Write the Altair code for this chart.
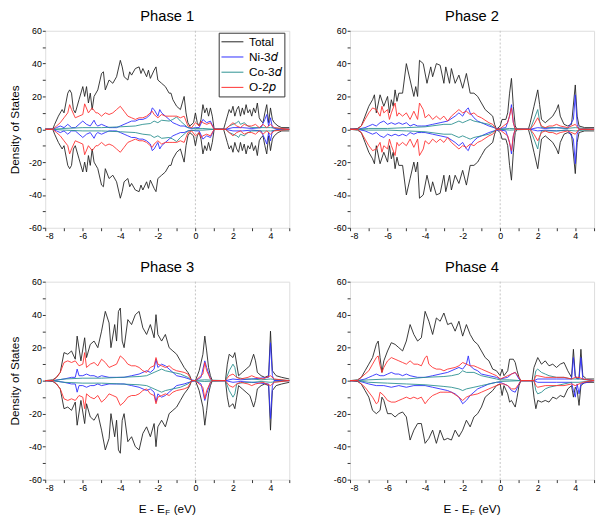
import altair as alt
import pandas as pd

FONT = "Liberation Sans"
SERIES = ["Total", "Ni-3\U0001D451", "Co-3\U0001D451", "O-2\U0001D45D"]
COLORS = ["#222222", "#2b2bff", "#2a9090", "#ff3030"]

# ---------------- Phase 1 (spin-up; spin-down is the mirror image) ----------------
P1_TOTAL = [(-8, 0), (-7.6, 0), (-7.5, 3), (-7.3, 8), (-7.1, 12), (-7.0, 10), (-6.8, 22), (-6.7, 24),
            (-6.6, 22), (-6.5, 12), (-6.4, 10), (-6.2, 18), (-6.0, 26), (-5.9, 20), (-5.8, 26), (-5.7, 16),
            (-5.6, 22), (-5.5, 12), (-5.4, 20), (-5.2, 24), (-5.0, 34), (-4.9, 35), (-4.8, 24), (-4.6, 30),
            (-4.4, 28), (-4.2, 32), (-4.0, 42), (-3.9, 38), (-3.8, 32), (-3.6, 30), (-3.5, 35), (-3.4, 33),
            (-3.2, 37), (-3.0, 38), (-2.9, 34), (-2.8, 37), (-2.6, 32), (-2.5, 36), (-2.4, 31), (-2.2, 36),
            (-2.1, 38), (-2.0, 30), (-1.8, 28), (-1.6, 26), (-1.4, 22), (-1.3, 22), (-1.2, 18), (-1.0, 14),
            (-0.8, 12), (-0.6, 20), (-0.5, 10), (-0.4, 4), (-0.3, 2), (-0.1, 4), (0.0, 10), (0.1, 4),
            (0.2, 2), (0.3, 6), (0.4, 15), (0.5, 10), (0.6, 13), (0.7, 8), (0.8, 13), (0.9, 8), (1.0, 0),
            (1.5, 0), (1.6, 4), (1.7, 8), (1.8, 12), (1.9, 10), (2.0, 14), (2.1, 8), (2.2, 12), (2.3, 14),
            (2.4, 8), (2.5, 13), (2.6, 9), (2.7, 15), (2.8, 10), (2.9, 12), (3.0, 8), (3.1, 13), (3.2, 10),
            (3.3, 16), (3.4, 7), (3.5, 5), (3.6, 4), (3.7, 10), (3.8, 15), (3.9, 4), (4.0, 13), (4.1, 6),
            (4.2, 4), (4.4, 2), (4.6, 1), (5.0, 1)]
P1_NI = [(-8, 0), (-7.6, 0), (-7.4, 1), (-7.2, 2), (-7.0, 1), (-6.8, 3), (-6.6, 1), (-6.4, 1), (-6.2, 3),
         (-6.0, 5), (-5.8, 3), (-5.6, 2), (-5.4, 5.5), (-5.3, 3), (-5.2, 2), (-5.0, 3), (-4.8, 2), (-4.6, 1),
         (-4.4, 1), (-4.2, 1), (-4.0, 2), (-3.8, 3), (-3.6, 4), (-3.4, 5), (-3.2, 5), (-3.0, 6), (-2.8, 6),
         (-2.6, 7), (-2.4, 9), (-2.3, 13), (-2.2, 12), (-2.0, 8), (-1.9, 12), (-1.8, 10), (-1.6, 8),
         (-1.4, 6), (-1.2, 4), (-1.0, 3), (-0.8, 2), (-0.6, 2), (-0.4, 1), (-0.2, 0.5), (0.0, 1), (0.2, 1),
         (0.4, 6), (0.6, 4), (0.8, 5), (1.0, 0), (1.6, 0), (2.0, 1), (2.5, 1), (3.0, 0.5), (3.5, 1),
         (3.7, 6), (3.8, 9), (3.9, 2), (4.0, 7), (4.1, 1), (4.4, 0), (5.0, 0)]
P1_CO = [(-8, 0), (-7.6, 0), (-7.0, 0.5), (-6.0, 1), (-5.0, 1), (-4.0, 1.5), (-3.2, 2), (-2.8, 3),
         (-2.4, 3.5), (-2.2, 5), (-2.0, 4), (-1.8, 5.5), (-1.4, 5), (-1.2, 6), (-1.0, 7.5), (-0.8, 5),
         (-0.6, 3), (-0.4, 1), (0.0, 0.5), (0.4, 0.5), (1.0, 0), (1.6, 0), (1.8, 2), (2.0, 3), (2.2, 4),
         (2.3, 5), (2.4, 3), (2.6, 4), (2.8, 2), (3.0, 1), (3.4, 1), (3.8, 1), (4.0, 1), (4.5, 0.5), (5.0, 0)]
P1_O = [(-8, 0), (-7.6, 0), (-7.4, 2), (-7.2, 4), (-7.0, 7), (-6.8, 10), (-6.7, 15), (-6.6, 12), (-6.4, 7),
        (-6.2, 8), (-6.0, 9), (-5.9, 15.5), (-5.7, 10), (-5.5, 13), (-5.3, 10), (-5.2, 10), (-5.0, 8),
        (-4.8, 10), (-4.6, 9), (-4.4, 10), (-4.2, 12), (-4.0, 14), (-3.8, 11), (-3.6, 8), (-3.4, 7),
        (-3.2, 6), (-3.0, 7), (-2.8, 7), (-2.6, 8), (-2.4, 10), (-2.3, 11), (-2.2, 9), (-2.0, 7), (-1.8, 9),
        (-1.6, 8), (-1.4, 8), (-1.2, 8), (-1.0, 8), (-0.8, 7), (-0.6, 8), (-0.4, 2), (-0.2, 1), (0.0, 4),
        (0.2, 2), (0.3, 5), (0.4, 4), (0.6, 3), (0.8, 4), (1.0, 0), (1.6, 0), (1.8, 2), (2.0, 4), (2.2, 2),
        (2.4, 1), (2.6, 3), (2.8, 2), (3.0, 2), (3.2, 3), (3.4, 1), (3.6, 3), (3.8, 1), (4.0, 3), (4.2, 1),
        (5.0, 0)]

# ---------------- Phase 2 ----------------
P2_TOTAL = [(-8, 0), (-7.6, 0.5), (-7.4, 2), (-7.2, 8), (-7.0, 14), (-6.8, 18), (-6.7, 21), (-6.6, 10),
            (-6.4, 21), (-6.2, 14), (-6.0, 20), (-5.9, 10), (-5.8, 18), (-5.7, 14), (-5.6, 24), (-5.5, 17),
            (-5.4, 22), (-5.2, 22), (-5.0, 40), (-4.8, 30), (-4.6, 20), (-4.5, 26), (-4.4, 20), (-4.3, 42),
            (-4.1, 40), (-3.9, 28), (-3.7, 38), (-3.6, 32), (-3.4, 40), (-3.2, 39), (-3.0, 28), (-2.9, 38),
            (-2.7, 28), (-2.6, 37), (-2.4, 28), (-2.2, 33), (-2.0, 25), (-1.8, 34), (-1.6, 22), (-1.4, 22),
            (-1.2, 20), (-1.0, 16), (-0.8, 12), (-0.6, 10), (-0.4, 8), (-0.3, 3), (-0.2, 0), (0.0, 2),
            (0.1, 6), (0.3, 6), (0.4, 10), (0.5, 22), (0.6, 31), (0.7, 14), (0.8, 2), (0.9, 0), (1.5, 0),
            (1.6, 4), (1.8, 14), (2.0, 24), (2.1, 15), (2.2, 6), (2.4, 4), (2.6, 6), (2.8, 8), (3.0, 12),
            (3.1, 15), (3.2, 8), (3.4, 3), (3.6, 2), (3.8, 3), (4.0, 27), (4.1, 8), (4.2, 2), (4.5, 1),
            (5.0, 1)]
P2_NI = [(-8, 0), (-7.6, 0), (-7.2, 1), (-7.0, 2), (-6.8, 3), (-6.6, 2), (-6.4, 4), (-6.2, 5), (-6.0, 3),
         (-5.8, 4), (-5.6, 3), (-5.4, 4), (-5.2, 3), (-5.0, 4), (-4.8, 2), (-4.6, 3), (-4.4, 2), (-4.2, 2),
         (-4.0, 2), (-3.6, 3), (-3.2, 4), (-2.8, 5), (-2.4, 8), (-2.2, 10), (-2.0, 8), (-1.8, 12),
         (-1.7, 13), (-1.6, 10), (-1.4, 7), (-1.2, 5), (-1.0, 4), (-0.6, 2), (-0.2, 0.5), (0.0, 0.5),
         (0.3, 1), (0.5, 8), (0.6, 15), (0.7, 4), (0.8, 0), (1.6, 0), (1.8, 0.5), (2.0, 1), (2.4, 0.5),
         (3.0, 1), (3.6, 0.5), (3.9, 6), (4.0, 21), (4.1, 3), (4.2, 0), (5.0, 0)]
P2_CO = [(-8, 0), (-7.6, 0), (-7.0, 0.5), (-6.0, 0.5), (-5.0, 1), (-4.0, 1.5), (-3.0, 3), (-2.6, 3),
         (-2.2, 5), (-2.0, 4), (-1.8, 5), (-1.6, 6), (-1.4, 5), (-1.0, 4), (-0.6, 3), (-0.3, 1), (-0.2, 0),
         (0.0, 0), (0.5, 0.5), (1.6, 0), (1.8, 6), (2.0, 12), (2.1, 5), (2.2, 1), (2.6, 1), (3.0, 1),
         (3.5, 0.5), (4.0, 1), (5.0, 0)]
P2_O = [(-8, 0), (-7.6, 0), (-7.4, 2), (-7.2, 6), (-7.0, 10), (-6.8, 13), (-6.6, 12), (-6.4, 8), (-6.3, 14),
        (-6.2, 10), (-6.0, 12), (-5.9, 6), (-5.8, 10), (-5.6, 16), (-5.5, 8), (-5.4, 10), (-5.2, 8),
        (-5.0, 10), (-4.8, 6), (-4.6, 11), (-4.4, 6), (-4.3, 16), (-4.1, 12), (-4.0, 7), (-3.8, 9),
        (-3.6, 6), (-3.4, 8), (-3.2, 6), (-3.0, 8), (-2.8, 5), (-2.6, 8), (-2.4, 10), (-2.2, 12), (-2.0, 10),
        (-1.8, 11), (-1.6, 9), (-1.4, 10), (-1.2, 8), (-1.0, 7), (-0.6, 4), (-0.4, 3), (-0.2, 0), (0.0, 0.5),
        (0.4, 4), (0.6, 13), (0.7, 4), (0.8, 0), (1.6, 0), (1.8, 3), (2.0, 7), (2.2, 2), (2.4, 1), (2.6, 2),
        (2.8, 2), (3.0, 3), (3.2, 2), (3.6, 1), (4.0, 3), (4.2, 0), (5.0, 0)]

# ---------------- Phase 3 ----------------
P3_TOTAL = [(-8, 0), (-7.6, 0.5), (-7.4, 2), (-7.2, 5), (-7.0, 17), (-6.8, 16), (-6.6, 18), (-6.4, 13),
            (-6.3, 27), (-6.1, 12), (-5.9, 26), (-5.8, 14), (-5.6, 22), (-5.4, 24), (-5.2, 20), (-5.0, 30),
            (-4.8, 42), (-4.6, 35), (-4.5, 20), (-4.3, 34), (-4.2, 24), (-4.1, 42), (-4.0, 44), (-3.9, 24),
            (-3.8, 20), (-3.6, 37), (-3.4, 34), (-3.2, 40), (-3.0, 42), (-2.8, 32), (-2.6, 28), (-2.4, 34),
            (-2.2, 26), (-2.1, 40), (-2.0, 28), (-1.8, 24), (-1.6, 28), (-1.4, 20), (-1.2, 18), (-1.0, 16),
            (-0.8, 12), (-0.6, 8), (-0.4, 5), (-0.3, 3), (-0.2, 0), (0.0, 0), (0.2, 6), (0.4, 16), (0.5, 27),
            (0.6, 18), (0.7, 8), (0.8, 3), (0.9, 0), (1.6, 0), (1.7, 10), (1.8, 16), (2.0, 14), (2.1, 17),
            (2.2, 10), (2.3, 3), (2.5, 5), (2.7, 7), (2.9, 9), (3.1, 16), (3.2, 12), (3.3, 5), (3.5, 3),
            (3.7, 2), (3.9, 3), (4.0, 30), (4.1, 6), (4.3, 3), (4.6, 2), (5.0, 1)]
P3_NI = [(-8, 0), (-7.6, 0), (-7.0, 1), (-6.6, 2), (-6.4, 2), (-6.3, 7), (-6.2, 3), (-6.0, 3), (-5.8, 4),
         (-5.6, 3), (-5.4, 3), (-5.2, 2), (-5.0, 3), (-4.6, 2), (-4.2, 2), (-3.8, 2), (-3.4, 3), (-3.0, 4),
         (-2.6, 6), (-2.4, 5), (-2.2, 7), (-2.1, 13), (-2.0, 8), (-1.8, 10), (-1.6, 9), (-1.4, 7), (-1.2, 5),
         (-1.0, 3), (-0.6, 2), (-0.2, 0.5), (0.0, 0), (0.3, 2), (0.5, 12), (0.6, 8), (0.8, 1), (0.9, 0),
         (1.6, 0), (2.0, 1), (2.4, 0.5), (3.0, 1), (3.9, 2), (4.0, 23), (4.1, 3), (4.2, 0), (5.0, 0)]
P3_CO = [(-8, 0), (-7.6, 0), (-7.0, 1), (-6.0, 1.5), (-5.0, 1.5), (-4.0, 2), (-3.0, 2.5), (-2.6, 3),
         (-2.2, 5), (-2.0, 6), (-1.8, 7), (-1.6, 6), (-1.2, 5), (-0.8, 4), (-0.4, 2), (-0.2, 0), (0.5, 0.5),
         (1.6, 0), (1.8, 6), (2.0, 10), (2.1, 8), (2.2, 2), (2.6, 1), (3.0, 1), (3.5, 0.5), (4.0, 1), (5.0, 0)]
P3_O = [(-8, 0), (-7.6, 0), (-7.4, 2), (-7.2, 5), (-7.0, 11), (-6.8, 12), (-6.6, 11), (-6.4, 12), (-6.2, 9),
        (-6.0, 10), (-5.9, 17), (-5.8, 8), (-5.6, 10), (-5.4, 11), (-5.2, 9), (-5.0, 13), (-4.8, 11),
        (-4.6, 8), (-4.4, 9), (-4.2, 10), (-4.0, 15), (-3.8, 13), (-3.6, 10), (-3.4, 9), (-3.2, 9), (-3.0, 8),
        (-2.8, 6), (-2.6, 5), (-2.4, 8), (-2.2, 9), (-2.1, 14), (-2.0, 10), (-1.8, 9), (-1.6, 8), (-1.4, 9),
        (-1.2, 7), (-1.0, 6), (-0.6, 5), (-0.4, 4), (-0.2, 0), (0.0, 0), (0.4, 4), (0.5, 11), (0.6, 6),
        (0.8, 1), (0.9, 0), (1.6, 0), (1.8, 3), (2.0, 4), (2.2, 2), (2.4, 1), (2.8, 2), (3.0, 3), (3.2, 2),
        (3.6, 1), (4.0, 3), (4.2, 1), (5.0, 0)]

# ---------------- Phase 4 (spin-up and spin-down read separately) ----------------
P4_TOTAL_UP = [(-8, 0), (-7.6, 0.5), (-7.4, 2), (-7.2, 6), (-7.0, 10), (-6.8, 14), (-6.6, 22), (-6.5, 24),
               (-6.4, 14), (-6.3, 5), (-6.2, 12), (-6.0, 18), (-5.8, 23), (-5.6, 22), (-5.4, 20), (-5.2, 18),
               (-5.0, 24), (-4.8, 34), (-4.6, 28), (-4.4, 24), (-4.2, 26), (-4.0, 42), (-3.8, 36),
               (-3.6, 28), (-3.4, 38), (-3.2, 36), (-3.0, 41), (-2.8, 34), (-2.6, 35), (-2.4, 30),
               (-2.2, 36), (-2.0, 27), (-1.8, 34), (-1.6, 28), (-1.4, 24), (-1.2, 22), (-1.0, 18),
               (-0.8, 14), (-0.6, 12), (-0.4, 7), (-0.2, 6), (0.0, 3), (0.1, 7), (0.2, 3), (0.4, 6),
               (0.5, 13), (0.7, 13), (0.8, 11), (0.9, 6), (1.0, 2), (1.1, 0), (1.7, 0), (1.8, 8), (2.0, 14),
               (2.2, 10), (2.4, 12), (2.6, 9), (2.8, 10), (3.0, 8), (3.2, 10), (3.4, 11), (3.6, 6),
               (3.8, 2), (3.9, 19), (4.0, 3), (4.1, 1), (4.2, 2), (4.3, 19), (4.4, 3), (4.6, 1), (5.0, 1)]
P4_TOTAL_DN = [(-8, 0), (-7.6, -0.5), (-7.4, -2), (-7.2, -6), (-7.0, -10), (-6.8, -18), (-6.6, -20),
               (-6.4, -18), (-6.3, -10), (-6.2, -12), (-6.0, -20), (-5.8, -20), (-5.6, -22), (-5.4, -20),
               (-5.2, -19), (-5.0, -22), (-4.8, -36), (-4.6, -30), (-4.4, -26), (-4.2, -26), (-4.0, -38),
               (-3.8, -35), (-3.6, -30), (-3.4, -38), (-3.2, -30), (-3.0, -36), (-2.8, -35), (-2.6, -36),
               (-2.4, -30), (-2.2, -34), (-2.0, -30), (-1.8, -24), (-1.6, -28), (-1.4, -22), (-1.2, -20),
               (-1.0, -16), (-0.8, -10), (-0.6, -8), (-0.4, -6), (-0.2, -3), (0.0, -2), (0.1, -9),
               (0.2, -3), (0.4, -8), (0.5, -13), (0.6, -12), (0.8, -16), (0.9, -10), (1.0, -3), (1.1, 0),
               (1.7, 0), (1.8, -10), (1.9, -17), (2.0, -12), (2.2, -13), (2.4, -12), (2.6, -13),
               (2.8, -10), (3.0, -11), (3.2, -9), (3.4, -10), (3.6, -5), (3.8, -3), (3.9, -10), (4.0, -4),
               (4.1, -6), (4.2, -15), (4.3, -3), (4.5, -1), (5.0, -1)]
P4_NI_UP = [(-8, 0), (-7.6, 0), (-7.2, 1), (-7.0, 2), (-6.8, 3), (-6.6, 4), (-6.4, 3), (-6.2, 3), (-6.0, 4),
            (-5.8, 5), (-5.6, 4), (-5.4, 4), (-5.2, 3), (-5.0, 4), (-4.8, 3), (-4.4, 2), (-4.0, 2), (-3.6, 3),
            (-3.2, 4), (-2.8, 5), (-2.4, 7), (-2.2, 8), (-2.0, 7), (-1.8, 10), (-1.7, 15), (-1.6, 9),
            (-1.4, 7), (-1.2, 6), (-1.0, 4), (-0.6, 3), (-0.2, 2), (0.0, 1), (0.4, 2), (0.6, 4), (0.8, 5),
            (1.0, 1), (1.1, 0), (1.8, 0), (2.0, 1), (3.0, 1), (3.8, 1), (3.9, 14), (4.0, 2), (4.2, 1),
            (4.3, 14), (4.4, 1), (5.0, 0)]
P4_NI_DN = [(-8, 0), (-7.6, 0), (-7.0, -2), (-6.6, -3), (-6.2, -3), (-5.8, -4), (-5.4, -3), (-5.0, -4),
            (-4.6, -3), (-4.0, -3), (-3.6, -4), (-3.2, -5), (-2.8, -6), (-2.4, -8), (-2.2, -10), (-2.0, -14),
            (-1.8, -12), (-1.6, -9), (-1.4, -7), (-1.2, -5), (-1.0, -4), (-0.6, -2), (-0.2, -1), (0.0, -1),
            (0.4, -3), (0.6, -6), (0.8, -7), (1.0, -2), (1.1, 0), (1.8, 0), (2.0, -1), (3.0, -1), (3.8, -1),
            (3.9, -6), (4.0, -10), (4.1, -2), (4.2, -8), (4.3, -2), (5.0, 0)]
P4_CO_UP = [(-8, 0), (-7.6, 0), (-7.0, 0.5), (-6.0, 1), (-5.0, 1), (-4.0, 2), (-3.0, 2.5), (-2.6, 3),
            (-2.2, 4), (-2.0, 6), (-1.8, 5), (-1.4, 5), (-1.0, 3), (-0.6, 2), (-0.2, 1), (0.0, 0.5),
            (0.5, 0.5), (1.1, 0), (1.8, 0), (1.9, 6), (2.0, 7), (2.2, 5), (2.4, 4), (2.6, 3), (3.0, 2),
            (3.4, 2), (3.8, 1), (4.2, 1), (5.0, 0)]
P4_CO_DN = [(-8, 0), (-7.6, 0), (-7.0, -1), (-6.0, -1.5), (-5.0, -2), (-4.0, -2.5), (-3.0, -3.5),
            (-2.6, -4), (-2.2, -5), (-2.0, -6), (-1.8, -5), (-1.4, -4), (-1.0, -3), (-0.6, -2), (-0.2, -1),
            (0.0, -0.5), (1.1, 0), (1.8, 0), (1.9, -6), (2.0, -8), (2.2, -7), (2.4, -5), (2.6, -4),
            (3.0, -3), (3.4, -2), (3.8, -1), (4.2, -1), (5.0, 0)]
P4_O_UP = [(-8, 0), (-7.6, 0), (-7.4, 2), (-7.2, 4), (-7.0, 6), (-6.8, 10), (-6.6, 14), (-6.5, 15),
           (-6.4, 9), (-6.3, 5), (-6.2, 8), (-6.0, 12), (-5.8, 14), (-5.6, 13), (-5.4, 12), (-5.2, 11),
           (-5.0, 10), (-4.8, 12), (-4.6, 10), (-4.4, 10), (-4.2, 9), (-4.0, 14), (-3.9, 15), (-3.8, 10),
           (-3.6, 8), (-3.4, 7), (-3.2, 7), (-3.0, 6), (-2.8, 7), (-2.4, 8), (-2.2, 9), (-2.0, 11),
           (-1.8, 10), (-1.6, 9), (-1.4, 9), (-1.2, 8), (-1.0, 7), (-0.6, 5), (-0.4, 4), (-0.2, 3),
           (0.0, 1), (0.2, 2), (0.4, 3), (0.6, 4), (0.8, 5), (1.0, 2), (1.1, 0), (1.8, 0), (1.9, 3),
           (2.0, 3), (2.4, 2), (3.0, 2), (3.4, 2), (3.8, 1), (4.0, 2), (4.2, 2), (4.4, 1), (5.0, 0)]
P4_O_DN = [(-8, 0), (-7.6, 0), (-7.4, -2), (-7.2, -4), (-7.0, -7), (-6.8, -10), (-6.6, -14), (-6.5, -13),
           (-6.4, -7), (-6.2, -9), (-6.0, -12), (-5.8, -13), (-5.6, -13), (-5.4, -12), (-5.2, -11),
           (-5.0, -10), (-4.8, -11), (-4.6, -10), (-4.4, -11), (-4.2, -10), (-4.0, -14), (-3.8, -11),
           (-3.6, -9), (-3.4, -8), (-3.2, -7), (-3.0, -7), (-2.6, -7), (-2.2, -10), (-2.0, -12),
           (-1.8, -10), (-1.6, -9), (-1.2, -8), (-1.0, -7), (-0.6, -5), (-0.2, -3), (0.0, -2), (0.2, -2),
           (0.4, -3), (0.6, -5), (0.8, -5), (1.0, -2), (1.1, 0), (1.8, 0), (1.9, -3), (2.0, -4), (2.4, -3),
           (3.0, -3), (3.4, -3), (3.8, -2), (4.0, -3), (4.2, -2), (4.4, -1), (5.0, 0)]

X_TICKS = list(range(-8, 6))
Y_TICKS = list(range(-60, 61, 10))
FERMI = [0.0]

W = 249
H_TOP, H_BOT = 201, 202


def mirrored(pairs):
    return [(e, -v) for e, v in pairs]


def build_rows(curves):
    rows = []
    for name, spin, pairs in curves:
        for i, (e, v) in enumerate(pairs):
            rows.append({"E": e, "D": v, "series": name, "spin": spin, "i": i})
    return pd.DataFrame(rows)


def panel(title, curves, left, bottom, legend):
    H = H_BOT if bottom else H_TOP
    df = build_rows(curves)
    xax = alt.Axis(values=X_TICKS, labelExpr="datum.value % 2 == 0 ? '' + datum.value : ''",
                   title=None, grid=False, domain=False, tickSize=3, tickColor="#333",
                   labelFontSize=9, labelPadding=1, labelColor="#000", labelFont=FONT,
                   minExtent=13, maxExtent=13)
    yax = alt.Axis(values=Y_TICKS, labelExpr="datum.value % 20 == 0 ? '' + datum.value : ''",
                   title="Density of States" if left else None, titleFontSize=12,
                   titleFontWeight="normal", titleFont=FONT, titleColor="#000", titlePadding=7,
                   grid=False, domain=False, tickSize=3, tickColor="#333",
                   labelFontSize=9, labelPadding=1, labelColor="#000", labelFont=FONT,
                   minExtent=17, maxExtent=17)
    xs = alt.Scale(domain=[-8, 5], nice=False, zero=False)
    ys = alt.Scale(domain=[-60, 60], nice=False)
    if legend:
        leg = alt.Legend(orient="none", legendX=177, legendY=2, title=None, symbolType="stroke",
                         symbolSize=500, symbolStrokeWidth=1, labelFontSize=12, labelFont=FONT,
                         labelColor="#000", strokeColor="#333", fillColor="white", padding=2,
                         rowPadding=0.5, clipHeight=14.5, labelOffset=5, labelLimit=100)
    else:
        leg = None
    color = alt.Color("series:N", scale=alt.Scale(domain=SERIES, range=COLORS), legend=leg)

    fermi = alt.Chart(pd.DataFrame({"E": FERMI})).mark_rule(
        color="#c4c4c4", strokeDash=[2, 2], strokeWidth=1).encode(x=alt.X("E:Q", scale=xs, axis=xax))
    layers = [fermi]
    for s in SERIES:
        layers.append(alt.Chart(df[df.series == s]).mark_line(strokeWidth=0.9).encode(
            x=alt.X("E:Q", scale=xs, axis=xax),
            y=alt.Y("D:Q", scale=ys, axis=yax),
            color=color,
            detail="spin:N",
            order="i:Q"))
    if bottom:
        cx = W / 2
        t1 = alt.Chart(pd.DataFrame({"t": ["E - E"]})).mark_text(
            align="right", baseline="alphabetic", fontSize=12, font=FONT, color="#000").encode(
            text="t:N", x=alt.value(cx - 2.5), y=alt.value(H + 34))
        t2 = alt.Chart(pd.DataFrame({"t": ["F"]})).mark_text(
            align="left", baseline="alphabetic", fontSize=8, font=FONT, color="#000").encode(
            text="t:N", x=alt.value(cx - 2), y=alt.value(H + 36.5))
        t3 = alt.Chart(pd.DataFrame({"t": ["(eV)"]})).mark_text(
            align="left", baseline="alphabetic", fontSize=12, font=FONT, color="#000").encode(
            text="t:N", x=alt.value(cx + 6.5), y=alt.value(H + 34))
        layers += [t1, t2, t3]
    return alt.layer(*layers).properties(
        width=W, height=H,
        title=alt.TitleParams(title, fontSize=15, fontWeight="normal", font=FONT, color="#000",
                              offset=3, frame="group"))


def spin_pair(name, pairs):
    return [(name, "up", pairs), (name, "down", mirrored(pairs))]


c1 = sum([spin_pair(n, p) for n, p in zip(SERIES, [P1_TOTAL, P1_NI, P1_CO, P1_O])], [])
c2 = sum([spin_pair(n, p) for n, p in zip(SERIES, [P2_TOTAL, P2_NI, P2_CO, P2_O])], [])
c3 = sum([spin_pair(n, p) for n, p in zip(SERIES, [P3_TOTAL, P3_NI, P3_CO, P3_O])], [])
c4 = []
for n, up, dn in zip(SERIES, [P4_TOTAL_UP, P4_NI_UP, P4_CO_UP, P4_O_UP],
                     [P4_TOTAL_DN, P4_NI_DN, P4_CO_DN, P4_O_DN]):
    c4 += [(n, "up", up), (n, "down", dn)]

p1 = panel("Phase 1", c1, True, False, True)
p2 = panel("Phase 2", c2, False, False, False)
p3 = panel("Phase 3", c3, True, True, False)
p4 = panel("Phase 4", c4, False, True, False)

row1 = alt.hconcat(p1, p2, spacing=41).resolve_scale(color="independent").resolve_legend(color="independent")
row2 = alt.hconcat(p3, p4, spacing=41).resolve_scale(color="independent").resolve_legend(color="independent")
chart = alt.vconcat(row1, row2, spacing=18).resolve_scale(color="independent").resolve_legend(
    color="independent").properties(
    padding={"left": 0, "top": -5, "right": 0, "bottom": 0}).configure_view(
    stroke="#333", strokeWidth=1).configure(font=FONT)

chart.save("out.html", embed_options={"renderer": "svg", "actions": False})
